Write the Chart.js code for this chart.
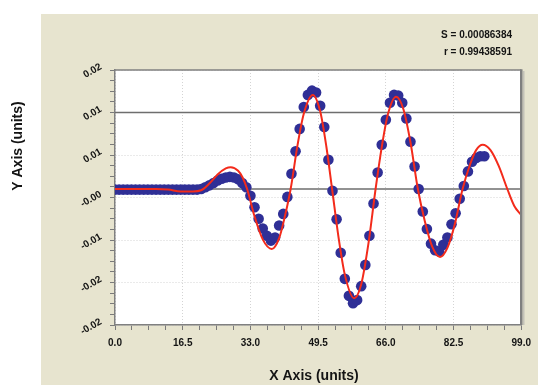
<!DOCTYPE html>
<html>
<head>
<meta charset="utf-8">
<script src="https://cdn.jsdelivr.net/npm/chart.js@4.4.0/dist/chart.umd.min.js"></script>
<style>
  html, body { margin: 0; padding: 0; background: #fff; }
  #wrap { width: 538px; height: 385px; position: relative; }
</style>
</head>
<body>
<div id="wrap"><canvas id="fitChart"></canvas></div>
<script>
// measured signal, one sample per x unit (x = 0 .. 90)
const sampleY = [
  -0.0001, -0.0001, -0.0001, -0.0001, -0.0001, -0.0001, -0.0001, -0.0001, -0.0001, -0.0001,
  -0.0001, -0.0001, -0.0001, -0.0001, -0.0001, -0.0001, -0.0001, -0.0001, -0.0001, -0.0001,
  -0.0001, 0.0000, 0.0003, 0.0006, 0.0010, 0.0014, 0.0017, 0.0019, 0.0020, 0.0019,
  0.0016, 0.0010, 0.0003, -0.0011, -0.0030, -0.0049, -0.0065, -0.0077, -0.0085, -0.0080,
  -0.0060, -0.0041, -0.0013, 0.0025, 0.0062, 0.0099, 0.0135, 0.0155, 0.0162, 0.0159,
  0.0137, 0.0102, 0.0048, -0.0003, -0.0050, -0.0105, -0.0148, -0.0176, -0.0188, -0.0183,
  -0.0160, -0.0125, -0.0077, -0.0024, 0.0027, 0.0073, 0.0114, 0.0142, 0.0155, 0.0154,
  0.0142, 0.0116, 0.0078, 0.0037, 0.0000, -0.0037, -0.0066, -0.0090, -0.0101, -0.0103,
  -0.0092, -0.0080, -0.0058, -0.0040, -0.0016, 0.0005, 0.0029, 0.0045, 0.0051, 0.0054,
  0.0054
];

// fitted curve
const fitX = [0, 5, 10, 13, 16, 19, 21, 23, 25, 27, 28.2, 30, 31.1, 32.2, 34, 36, 38.2, 40, 41.5, 42.8,
  44.5, 46, 48.2, 50, 51.5, 52.9, 54.5, 56, 58.3, 60, 61.8, 63.5, 65, 66.5, 68.5, 70.3, 72, 73.8,
  75.5, 77.3, 79.2, 81, 82.8, 84.7, 86.5, 88, 89.6, 91.5, 93.5, 95.6, 97.3, 99];
const fitY = [0, 0, 0, -0.0001, -0.0004, -0.0004, -0.0002, 0.0009, 0.0024, 0.0034, 0.0036, 0.0030, 0.0019, 0.0000,
  -0.0045, -0.0083, -0.0099, -0.0081, -0.0042, 0.0000,
  0.0073, 0.0124, 0.0155, 0.0128, 0.0070, 0.0000, -0.0081, -0.0141, -0.0180, -0.0157, -0.0088, 0.0000,
  0.0069, 0.0123, 0.0152, 0.0131, 0.0077, 0.0000,
  -0.0053, -0.0095, -0.0112, -0.0097, -0.0058, 0.0000, 0.0040, 0.0064, 0.0073, 0.0064, 0.0038, 0.0000,
  -0.0028, -0.0043];

const statLines = ['S = 0.00086384', 'r = 0.99438591'];
const xTitle = 'X Axis (units)';
const yTitle = 'Y Axis (units)';

const xMajorTicks = [0, 16.5, 33, 49.5, 66, 82.5, 99];
const yMajorTicks = [-0.0224, -0.0154, -0.0084, -0.0014, 0.0056, 0.0126, 0.0196];
const minorPerMajor = 4;
const refLines = [0, 0.0126];

const FONT = "'Liberation Sans', Arial, sans-serif";

function withMinors(majors) {
  const out = [];
  for (let i = 0; i < majors.length - 1; i++) {
    const step = (majors[i + 1] - majors[i]) / minorPerMajor;
    for (let k = 0; k < minorPerMajor; k++) out.push({ value: majors[i] + step * k });
  }
  out.push({ value: majors[majors.length - 1] });
  return out;
}

const isMajor = c => c.index % minorPerMajor === 0;

// beige panel, white plot area, frame and free-standing texts
const decor = {
  id: 'decor',
  beforeDraw(chart) {
    const { ctx, chartArea: a, width, height } = chart;
    ctx.save();
    ctx.fillStyle = '#ffffff';
    ctx.fillRect(0, 0, width, height);
    ctx.fillStyle = '#e7e4cf';
    ctx.fillRect(41, 14, width - 41, height - 14);
    ctx.fillStyle = '#ffffff';
    ctx.fillRect(a.left, a.top, a.right - a.left, a.bottom - a.top);
    ctx.restore();
  },
  afterDraw(chart) {
    const { ctx, chartArea: a } = chart;
    ctx.save();
    // top and right edges of the frame
    ctx.strokeStyle = '#c4c2b8';
    ctx.lineWidth = 1.5;
    ctx.beginPath();
    ctx.moveTo(a.right + 2.5, a.top + 1);
    ctx.lineTo(a.right + 2.5, a.bottom);
    ctx.stroke();
    ctx.strokeStyle = '#808080';
    ctx.lineWidth = 1.5;
    ctx.beginPath();
    ctx.moveTo(a.left, a.top);
    ctx.lineTo(a.right, a.top);
    ctx.stroke();
    ctx.lineWidth = 2.5;
    ctx.beginPath();
    ctx.moveTo(a.right, a.top - 0.75);
    ctx.lineTo(a.right, a.bottom);
    ctx.stroke();

    ctx.fillStyle = '#141414';
    ctx.font = 'bold 10px ' + FONT;
    ctx.textAlign = 'right';
    ctx.textBaseline = 'middle';
    ctx.fillText(statLines[0], 512, 35);
    ctx.fillText(statLines[1], 512, 52);

    ctx.font = 'bold 14px ' + FONT;
    ctx.textAlign = 'center';
    ctx.fillText(xTitle, 314, 376);
    ctx.translate(18, 146);
    ctx.rotate(-Math.PI / 2);
    ctx.fillText(yTitle, 0, 0);
    ctx.restore();
  }
};

const refDatasets = refLines.map(v => ({
  data: [{ x: xMajorTicks[0], y: v }, { x: xMajorTicks[xMajorTicks.length - 1], y: v }],
  showLine: true,
  borderColor: '#6e6e6e',
  borderWidth: 1.6,
  pointRadius: 0,
  order: 3
}));

new Chart(document.getElementById('fitChart'), {
  type: 'scatter',
  data: {
    datasets: [
      {
        label: 'fit',
        data: fitX.map((x, i) => ({ x, y: fitY[i] })),
        showLine: true,
        borderColor: '#f32b1b',
        borderWidth: 2,
        pointRadius: 0,
        cubicInterpolationMode: 'monotone',
        order: 0
      },
      {
        label: 'data',
        data: sampleY.map((y, i) => ({ x: i, y })),
        backgroundColor: '#2f2f96',
        borderWidth: 0,
        pointRadius: 5.3,
        order: 1
      },
      ...refDatasets
    ]
  },
  options: {
    responsive: true,
    maintainAspectRatio: false,
    animation: false,
    layout: { padding: { top: 70, right: 14, left: 0, bottom: 0 } },
    plugins: { legend: { display: false }, tooltip: { enabled: false } },
    font: { family: FONT },
    scales: {
      x: {
        type: 'linear',
        min: xMajorTicks[0],
        max: xMajorTicks[xMajorTicks.length - 1],
        afterBuildTicks: s => { s.ticks = withMinors(xMajorTicks); },
        afterFit: s => { s.height = 60; },
        ticks: {
          autoSkip: false,
          maxRotation: 0,
          padding: 7,
          color: '#141414',
          font: { family: FONT, size: 10, weight: 'bold' },
          callback: (v, i) => (i % minorPerMajor === 0 ? Number(v).toFixed(1) : '')
        },
        grid: {
          color: c => (isMajor(c) ? '#d4d4d4' : 'rgba(0,0,0,0)'),
          tickColor: '#7a7a7a',
          tickLength: 5,
          lineWidth: 1
        },
        border: { color: '#808080', width: 1.5, dash: [1, 2] }
      },
      y: {
        type: 'linear',
        min: yMajorTicks[0],
        max: yMajorTicks[yMajorTicks.length - 1],
        afterBuildTicks: s => { s.ticks = withMinors(yMajorTicks); },
        afterFit: s => { s.width = 115; },
        ticks: {
          autoSkip: false,
          minRotation: 30,
          maxRotation: 30,
          padding: 9,
          labelOffset: -4,
          color: '#141414',
          font: { family: FONT, size: 10, weight: 'bold' },
          callback: (v, i) => (i % minorPerMajor === 0 ? Number(v).toFixed(2) : '')
        },
        grid: {
          color: c => (isMajor(c) ? '#d4d4d4' : 'rgba(0,0,0,0)'),
          tickColor: '#7a7a7a',
          tickLength: 5,
          lineWidth: 1
        },
        border: { color: '#808080', width: 1.5, dash: [1, 2] }
      }
    }
  },
  plugins: [decor]
});
</script>
</body>
</html>
